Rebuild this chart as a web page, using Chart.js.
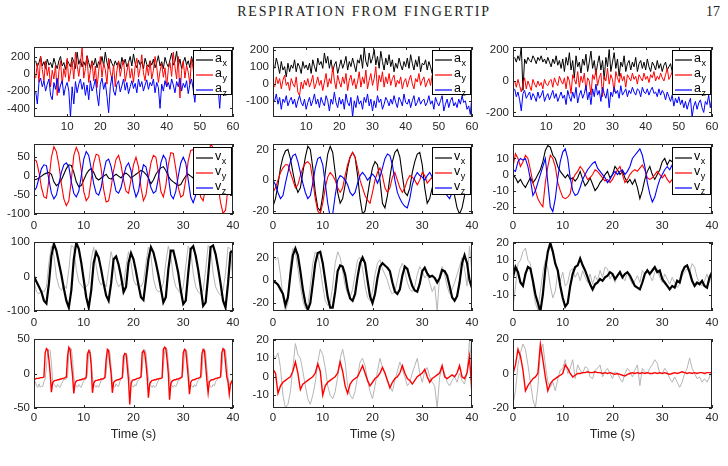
<!DOCTYPE html>
<html>
<head>
<meta charset="utf-8">
<script src="https://cdn.jsdelivr.net/npm/chart.js@4.4.1/dist/chart.umd.min.js"></script>
<style>
  html, body { margin: 0; padding: 0; background: #fff; }
  #page { position: relative; width: 728px; height: 466px; overflow: hidden; }
  .hdr { position: absolute; top: 4px; font-family: "Liberation Serif", "DejaVu Serif", serif; font-size: 14px; color: #222; }
  canvas { position: absolute; }
</style>
</head>
<body>
<div id="page">
  <div class="hdr" style="left:0; width:728px; text-align:center; letter-spacing:1.8px;">RESPIRATION FROM FINGERTIP</div>
  <div class="hdr" style="left:706px;">17</div>
</div>
<script>
// ---- data ----

// row 1: raw accelerations, 0.5 s samples over 60 s
const ax1 = [
  150, 80, 130, 200, 90, 140, 60, 170, 100, 130,
  70, 180, 110, 60, 150, 200, 90, 130, 50, 160,
  120, 80, 190, 140, 60, 250, 110, 170, 80, 140,
  90, 210, 130, 60, 150, 100, 180, 70, 140, 110,
  200, 90, 250, 130, 60, 170, 120, 80, 150, 100,
  140, 60, 190, 110, 170, 80, 130, 200, 90, 230,
  120, 70, 160, 100, 140, 60, 180, 110, 80, 150,
  100, 170, 70, 130, 210, 90, 140, 60, 190, 120,
  80, 160, 240, 100, 140, 260, 90, 170, 60, 130,
  190, 100, 150, 70, 200, 120, 80, 220, 130, 90,
  160, 60, 140, 230, 100, 170, 80, 260, 120, 150,
  70, 190, 110, 60, 160, 130, 90, 220, 140, 200
];
const ay1 = [
  -50, 120, -100, 200, 50, -80, 150, -20, 80, -150,
  40, -60, 100, -250, 30, 150, -120, 60, -40, 180,
  -90, 20, 150, -60, 250, 100, -30, 120, 300, -50,
  60, 200, -100, 40, 150, -80, 90, -160, 30, 200,
  -40, 120, 50, -120, 180, 20, -60, 100, -150, 40,
  150, -30, 80, 160, -90, 20, 130, -50, 60, -100,
  90, 180, -40, 60, 220, 10, -80, 100, -20, 150,
  -60, 40, 200, 80, -100, 30, 120, -40, 70, -150,
  50, 130, -30, 250, 80, -60, 200, -280, 40, 150,
  -50, 100, 20, -120, 180, 50, -90, 60, 130, -30,
  80, -60, 200, 40, -200, 70, 150, -30, 90, -80,
  30, 160, -70, 100, -20, 50, -100, 120, 60, 200
];
const az1 = [
  -200, -350, -100, -50, -150, -80, -200, -120, -60, -250,
  -300, -100, -180, -50, -220, -130, -80, -250, -150, -100,
  -200, -500, -150, -350, -90, -220, -120, -60, -180, -100,
  -250, -130, -300, -80, -200, -150, -60, -240, -370, -120,
  -50, -180, -100, -260, -450, -150, -30, -200, -250, -120,
  -80, -210, -140, -60, -190, -100, -230, -150, -80, -170,
  -110, -220, -60, -150, -90, -200, -130, -70, -180, -100,
  -140, -60, -220, -100, -160, -400, -120, -200, -80, -150,
  -100, -180, -60, -130, -220, -90, -150, -50, -200, -110,
  -160, -80, -230, -120, -60, -180, -330, -100, -150, -70,
  -200, -120, -60, -170, -100, -240, -140, -80, -190, -110,
  -150, -400, -90, -200, -130, -70, -220, -110, -160, -120
];
const ax2 = [
  90, 150, 110, 60, 130, 80, 100, 40, 120, 70,
  110, 90, 140, 70, 120, 100, 60, 130, 90, 110,
  80, 120, 60, 140, 100, 70, 150, 110, 130, 90,
  180, 120, 160, 90, 140, 70, 110, 130, 60, 100,
  140, 90, 120, 160, 80, 130, 100, 150, 110, 70,
  140, 120, 170, 90, 210, 130, 100, 180, 120, 150,
  200, 110, 160, 90, 190, 130, 80, 150, 110, 170,
  100, 140, 70, 120, 90, 150, 110, 80, 130, 100,
  150, 90, 170, 120, 80, 140, 100, 160, 70, 120,
  110, 140, 80, 130, 100, 60, 120, 90, 140, 100,
  80, 120, 100, 150, 70, 110, 90, 130, 60, 100,
  120, 80, 110, 70, 100, 90, 60, 120, 80, 130
];
const ay2 = [
  -20, 40, 0, 30, -30, 20, 50, -10, 10, -40,
  30, 0, -20, 40, -50, -70, 10, -30, 20, -10,
  30, -20, 10, 50, -30, 0, 40, -10, 20, -40,
  10, 60, -20, 30, 0, 100, 20, -30, 50, 10,
  -20, 40, 0, 60, -40, 20, 50, -10, 30, -30,
  10, 70, -20, 40, 0, 80, -30, 20, 60, -10,
  30, 100, -40, 50, 10, 70, -20, 40, 0, 60,
  -10, 30, 50, -20, 20, 0, 40, -30, 10, 30,
  -20, 20, 50, 0, -30, 30, 10, 60, -10, 20,
  40, -20, 10, 30, -10, 50, 0, -30, 20, 10,
  -20, 30, 0, 40, -30, 10, 20, -10, 30, 0,
  20, -20, 40, 10, -30, 30, 0, 50, 100, 60
];
const az2 = [
  -100, -60, -120, -80, -150, -90, -110, -70, -130, -100,
  -80, -120, -90, -140, -100, -70, -110, -130, -90, -150,
  -110, -80, -130, -100, -60, -120, -90, -140, -80, -110,
  -130, -70, -100, -160, -90, -120, -50, -110, -140, -80,
  -120, -90, -150, -60, -110, -130, -80, -195, -100, -140,
  -70, -120, -100, -150, -80, -110, -60, -130, -90, -160,
  -100, -140, -70, -110, -90, -150, -120, -80, -100, -130,
  -90, -120, -70, -110, -140, -80, -100, -130, -60, -110,
  -120, -90, -140, -100, -70, -130, -110, -80, -120, -100,
  -90, -130, -110, -70, -120, -100, -150, -80, -110, -130,
  -100, -70, -160, -120, -90, -140, -100, -80, -130, -110,
  -140, -90, -120, -70, -110, -100, -150, -130, -180, -60
];
const ax3 = [
  150, 120, 160, 130, 220, -60, 140, 110, 150, 130,
  120, 160, 140, 110, 150, 130, 160, 120, 140, 110,
  150, 120, 90, 140, 110, 160, 100, 130, 80, 140,
  60, 150, 100, 180, 70, 130, 20, 160, 90, 120,
  50, 140, 100, 170, 60, 120, 190, 80, 130, 40,
  110, 160, 70, 130, 10, 150, 90, 200, 60, 120,
  180, 80, 140, 30, 120, 90, 160, 60, 110, 130,
  70, 120, 90, 150, 60, 110, 130, 80, 120, 70,
  140, 90, 60, 120, 100, 70, 130, 80, 110, 60,
  100, 120, 70, 90, 110, 60, 100, 130, 80, 90,
  110, 60, 90, 120, 70, 100, 50, 110, 80, 90,
  60, 100, 80, 120, 70, 90, 40, 100, 80, 110
];
const ay3 = [
  0, -40, 10, -30, -70, -20, 20, -50, 0, -30,
  -60, 10, -20, -40, 0, -30, -10, -50, 10, -20,
  -30, 0, 10, -40, 20, -10, -30, 30, 0, -20,
  20, -50, 30, 0, -80, 40, 10, -20, 60, -40,
  30, -10, 50, -60, 20, 0, -90, 40, 10, 70,
  -30, 20, 50, -100, 30, 0, 80, -20, 40, 10,
  -70, 60, 20, -10, 50, 0, 30, -40, 40, 20,
  0, 50, 10, 30, -20, 40, 20, 0, 50, 10,
  30, -10, 40, 20, 60, 0, 30, 10, 50, 20,
  0, 40, 80, 10, 30, 60, 20, 40, 0, 30,
  50, 20, 40, 10, 60, 30, 0, 50, 20, 40,
  30, 60, 10, 40, 20, 50, 0, 30, 40, 20
];
const az3 = [
  -50, -100, -70, -120, -190, -80, -60, -110, -90, -70,
  -120, -80, -100, -130, -70, -110, -90, -60, -130, -100,
  -80, -120, -90, -60, -110, -80, -130, -100, -70, -110,
  -90, -150, -60, -100, -130, -70, -110, -40, -140, -90,
  -60, -110, -80, -30, -120, -70, -150, -50, -100, -20,
  -90, -60, -130, -40, -80, -110, -50, -170, -70, -100,
  -40, -80, -60, -110, -30, -90, -70, -50, -100, -60,
  -80, -40, -70, -90, -50, -60, -100, -40, -70, -80,
  -50, -90, -60, -40, -80, -70, -100, -50, -90, -60,
  -80, -120, -70, -100, -130, -90, -160, -110, -140, -100,
  -150, -120, -170, -130, -180, -140, -110, -229, -160, -130,
  -180, -140, -120, -170, -200, -130, -150, -90, -170, -100
];

// row 2: velocities, 0.5 s samples over 40 s
const vx1 = [
  -10, -8, -5, 0, 5, 8, 10, 5, -15, -25,
  -20, -10, 5, 20, 30, 28, 10, -15, -28, -25,
  -10, 5, 15, 20, 10, -5, -10, -5, 0, 5,
  -5, -8, 0, 5, 0, -5, 5, 8, 3, -5,
  0, 5, 10, 15, 12, 5, -5, -20, -10, 5,
  15, 22, 25, 15, 0, -10, -15, -20, -25, -22,
  -10, 0, 5, 0, -5, 0, -10, -5, 0, 5,
  0, -5, 0, 5, 0, -5, 0, 5, 0, -10,
  -15
];
const vy1 = [
  45, 40, 10, -30, -55, -58, -10, 50, 78, 65,
  30, -20, -60, -78, -65, -10, 55, 76, 60, 15,
  -40, -65, -55, -10, 35, 58, 55, 20, -35, -68,
  -65, -30, 15, 45, 55, 30, -10, -40, -45, -10,
  30, 50, 25, -30, -65, -50, -5, 35, 55, 50,
  10, -40, -55, -25, 30, 62, 60, 20, -30, -55,
  -50, -10, 40, 68, 70, 40, -15, -55, -65, -30,
  40, 85, 75, 30, -25, -70, -98, -90, -30, 35,
  55
];
const vz1 = [
  -40, -30, -5, 20, 30, 28, -10, -45, -60, -50,
  -20, 10, 30, 35, 25, -15, -45, -55, -40, 0,
  45, 65, 55, 20, -20, -45, -50, -30, 10, 40,
  45, 25, -10, -40, -45, -30, 0, 25, 35, 15,
  -30, -55, -40, 0, 30, 25, -5, -30, -45, -40,
  -5, 35, 55, 45, 0, -50, -60, -40, 0, 35,
  50, 35, -10, -55, -70, -50, 0, 30, 35, 20,
  -15, -40, -35, -10, 10, 20, 15, 0, -20, -40,
  -45
];
const vx2 = [
  -17, -12, -3, 8, 15, 19, 20, 14, 5, -3,
  -8, -5, 5, 15, 22, 20, 8, -8, -18, -20,
  -10, 5, 17, 22, 18, 5, -8, -15, -12, -3,
  8, 15, 18, 15, 3, -12, -22, -20, -10, 0,
  8, 12, 10, 0, -15, -18, -10, 2, 12, 18,
  20, 15, 3, -8, -10, -5, 5, 12, 17, 18,
  10, -5, -15, -12, -5, 0, 5, 3, -2, 0,
  -5, -8, -5, -10, -18, -22, -18, -10, -5, -2,
  0
];
const vy2 = [
  -8, -5, 0, 5, 8, 10, 10, 5, 0, -5,
  -3, 3, 8, 11, 12, 10, 0, -12, -20, -22,
  -15, -5, 2, 5, 3, 0, -5, -8, -5, 3,
  10, 15, 18, 15, 8, 0, -5, -10, -13, -15,
  -8, 0, 5, 8, 3, -5, -8, -5, 2, 5,
  0, -5, -8, -5, 0, 3, 2, 0, -3, 0,
  5, 3, -2, 0, 2, -3, 0, 3, 0, -2,
  2, 0, -3, 0, 3, 2, 5, 3, 8, 12,
  13
];
const vz2 = [
  0, -3, -8, -12, -10, -2, 5, 12, 16, 17,
  12, 5, -2, -8, -12, -10, -2, 8, 14, 15,
  10, -2, -15, -24, -22, -10, 0, 3, 2, 0,
  -3, -8, -10, -8, -2, 3, 5, 3, 0, 2,
  4, 2, -2, 2, 8, 14, 17, 16, 10, 0,
  -8, -12, -15, -17, -18, -12, -3, 2, 5, 3,
  2, 0, 3, 5, 2, -3, -5, -3, -5, -8,
  -10, -12, -8, -5, -3, 0, 2, 0, -3, -5,
  -8
];
const vx3 = [
  0, -2, -5, -3, -6, -8, -5, -2, -5, -3,
  0, 3, 8, 15, 18, 17, 12, 10, 5, 2,
  0, -2, 0, -3, -2, -4, -2, 2, -3, -7,
  -5, -2, -6, -10, -8, -5, -3, 0, 2, -2,
  0, 5, 3, 0, 2, -2, -5, -3, -6, -3,
  -8, -15, -10, -3, 2, 5, 0, -3, 0, 3,
  8, 10, 6, 9, 8, 3, 0, -2, -5, -8,
  -5, -2, 0, -3, -5, -3, 0, -2, -5, -3,
  -5
];
const vy3 = [
  5, 13, 10, 5, 8, 12, 10, 3, -5, -10,
  -15, -18, -20, -5, 5, 12, 10, 5, -5, -10,
  -14, -15, -14, -12, -3, 0, 2, 5, 3, 0,
  -3, -2, 0, 3, 2, 0, -2, -4, -3, -5,
  -3, 0, 3, 5, 0, -5, -3, 0, 2, 3,
  2, 4, 6, 3, -2, -3, -2, 0, 2, 0,
  -2, 0, -3, -5, -3, -5, -2, 0, -2, 0,
  2, 0, -2, 0, 2, 0, -2, 0, -3, 0,
  2
];
const vz3 = [
  3, 2, 8, 10, 9, 10, 5, -3, -13, -10,
  -5, 0, 5, 10, -5, -20, -23, -15, -2, 8,
  14, 16, 10, -2, -10, -13, -12, -8, -3, 0,
  3, 5, 7, 8, 4, 2, 0, -2, -5, -3,
  0, 2, 0, 2, 3, 0, 2, 5, 10, 12,
  14, 16, 12, 5, -5, -12, -17, -14, -8, -3,
  0, 3, 5, 3, 6, 8, 5, 2, 0, -2,
  0, 2, -2, 0, -3, -2, 0, -3, -5, -7,
  -6
];

// row 3: reference respiration (grey) and estimate (black), 0.5 s samples
const ref3a = [
  -10, -45, -50, -40, -45, -30, 40, 88, 60, 0,
  -30, -40, -25, -35, 20, 90, 85, 20, -15, -25,
  -35, -30, -20, 50, 85, 30, -10, -25, -15, -30,
  20, 72, 40, -10, -30, -20, -25, 30, 72, 40,
  -10, -25, -20, -30, -15, 40, 85, 60, -5, -35,
  -45, -40, -20, 40, 88, 60, 0, -30, -40, -50,
  -30, 30, 88, 75, 10, -30, -45, -50, -40, 20,
  90, 80, 10, -30, -45, -55, -40, 10, 85, 80,
  -20
];
const est3a = [
  0, -15, -30, -45, -70, -78, -20, 60, 95, 75,
  40, 5, -35, -70, -90, -40, 50, 98, 80, 40,
  -10, -60, -90, -40, 40, 70, 55, 20, -20, -55,
  -70, -20, 50, 58, 35, 0, -45, -30, 40, 68,
  50, 15, -25, -60, -68, -10, 50, 85, 70, 40,
  5, -35, -75, -60, 20, 75, 75, 45, 10, -40,
  -80, -70, 10, 80, 88, 60, 20, -30, -85, -75,
  0, 85, 90, 65, 25, -20, -70, -90, -20, 70,
  75
];
const ref3b = [
  22, 18, 20, 5, -15, -27, -20, 15, 28, 25,
  10, -5, -18, -25, -22, -5, 15, 25, 22, 10,
  -5, -18, -22, -20, -5, 15, 25, 20, 8, -5,
  -12, -15, -8, 5, 18, 20, 10, -5, -15, -18,
  -10, 5, 15, 18, 10, 5, 0, -8, -12, -10,
  0, 10, 15, 8, -2, -8, -10, -5, 5, 12,
  8, 2, 5, -2, -10, -5, -27, 5, 12, 5,
  -5, -12, -8, -2, 5, 12, 20, 10, -5, 30,
  5
];
const est3b = [
  -1, -2, -4, -8, -12, -22, -15, 5, 22, 28,
  22, 8, -8, -20, -26, -20, -3, 15, 24, 25,
  15, 0, -15, -24, -24, -10, 8, 13, 12, 5,
  -8, -16, -18, -12, 3, 15, 20, 15, 0, -14,
  -20, -12, 2, 12, 15, 13, 11, 8, -2, -10,
  -12, -8, 4, 12, 10, 2, -5, -9, -10, -3,
  8, 11, 6, 3, 4, 2, -2, 2, 9, 8,
  4, -5, -15, -18, -14, -2, 15, 22, 15, 0,
  -7
];
const ref3c = [
  -18, -5, 8, 10, 15, 17, 10, 8, -5, -15,
  -19, -8, 3, 10, 5, -5, -12, -8, 3, -2,
  3, -5, -3, 4, 5, 0, 3, -2, 4, 0,
  -3, 2, -4, 1, -2, 4, 0, 6, 5, -1,
  2, -3, 1, 4, 0, -2, 3, -1, -4, -2,
  1, -3, 4, 2, 5, 1, -2, 3, 5, 0,
  -3, 2, -1, -4, 0, -3, -6, -4, 1, 3,
  5, 3, 8, 6, 0, -3, -5, -2, 2, -3,
  3
];
const est3c = [
  0, 6, 3, -3, -5, 2, 6, 5, -2, -10,
  -15, -20, -10, 5, 15, 20, 15, 8, 4, -5,
  -12, -17, -15, -5, 2, 6, 7, 11, 7, 4,
  0, -4, -7, -4, -3, -1, -2, 0, 1, 3,
  2, -1, 1, 3, 0, 2, 3, 1, -2, -5,
  -6, -7, -3, 2, 4, 2, 4, 6, 3, 4,
  -1, -3, -5, -7, -5, -6, -2, -3, 3, 6,
  7, 3, -2, -5, -3, -4, -2, -5, -6, 0,
  3
];

// row 4: reference (grey) and derivative signal (red)
// left panel at 0.25 s samples
const ref4a = [
  -8, -12, -18, -20, -15, -20, -18, -19,
  -12, -8, 10, 30, 35, 33, 15, -10,
  -15, -18, -20, -16, -19, -20, -15, -12,
  -8, -9, -8, -5, 30, 37, 36, 20,
  -5, -15, -18, -20, -16, -19, -20, -15,
  -10, -9, -8, 0, 32, 35, 20, -5,
  -15, -18, -20, -17, -20, -15, -10, -9,
  -8, -7, 0, 28, 35, 30, 10, -12,
  -18, -20, -15, -18, -19, -12, -8, -6,
  5, 28, 30, 25, 5, -10, -15, -18,
  -20, -16, -18, -12, -9, -8, -6, 5,
  30, 35, 30, 10, -8, -15, -18, -20,
  -17, -20, -19, -14, -10, -9, -8, -7,
  10, 32, 38, 35, 15, -5, -15, -18,
  -20, -17, -19, -15, -10, -9, -8, -6,
  5, 30, 35, 32, 10, -10, -16, -18,
  -20, -16, -19, -14, -10, -8, -7, 0,
  30, 36, 30, 8, -10, -16, -19, -20,
  -16, -18, -12, -9, -8, -7, -5, 5,
  30, 36, 33, 15, -5, -15, -18, -12,
  -10
];
const der4a = [
  -8, -8, -7, -7, -7, -6, -6, -6,
  -5, 30, 36, 34, 20, 0, -27, -13,
  -11, -10, -10, -9, -9, -8, -8, -7,
  -7, -6, -5, 25, 38, 35, 15, -3,
  -29, -14, -11, -10, -10, -9, -9, -8,
  -8, -7, -5, 28, 33, 30, 12, -28,
  -14, -11, -10, -10, -9, -9, -8, -8,
  -7, -6, 20, 35, 33, 15, 0, -28,
  -13, -11, -10, -9, -9, -8, -7, -6,
  25, 29, 28, 10, -10, -45, -15, -10,
  -9, -9, -8, -7, -7, -6, -5, 30,
  33, 30, 15, -5, -35, -15, -12, -10,
  -10, -9, -9, -8, -8, -7, -7, -6,
  35, 38, 36, 20, 0, -38, -15, -11,
  -10, -9, -9, -8, -8, -7, -6, -5,
  30, 35, 33, 15, -5, -30, -13, -10,
  -9, -9, -8, -7, -7, -6, -5, 28,
  35, 33, 12, -10, -28, -12, -10, -9,
  -9, -8, -7, -7, -6, -6, -5, 30,
  36, 34, 15, -5, -12, -30, -15, -11,
  -10
];
const ref4b = [
  12, 10, 13, 5, -10, -17, -15, -8, 5, 18,
  12, 10, 3, -5, -12, -15, -10, -3, 8, 15,
  12, 5, -5, -10, -12, -8, 0, 10, 15, 8,
  -5, -10, -12, -8, 0, 8, 10, 6, -2, -8,
  -12, -5, 3, 10, 5, 2, -3, -5, -8, -2,
  3, 8, 4, 0, -5, -3, 2, 6, 10, 2,
  -3, 3, 5, 0, -3, -5, -17, 0, 5, 2,
  -3, -5, -2, 0, -3, 2, -2, -4, 2, 20,
  5
];
const der4b = [
  4, 2, -9, -5, -3, -2, -1, 0, 3, 8,
  2, -7, -4, -3, -2, -1, 0, 2, 7, 3,
  -10, -5, -3, -2, -1, 0, 2, 8, 3, -5,
  -9, -4, -2, -1, 0, 3, 6, 2, -2, -5,
  -3, -1, 0, 2, 5, 2, -2, -6, -3, -1,
  0, 2, 6, 2, -1, -2, -4, -2, 0, 1,
  2, 4, 0, -3, -1, 0, 1, 2, 6, 0,
  -1, 0, 1, 0, 2, 6, 0, -1, 2, 11,
  -10
];
const ref4c = [
  -18, -10, 5, 12, 17, 14, 5, -5, -15, -20,
  -8, 12, 17, 5, -5, -8, -5, -10, -3, 2,
  3, 8, 0, 3, 8, -3, 5, 2, 0, 4,
  3, -2, -3, 2, 3, 5, -2, 1, 3, 0,
  -3, 1, 0, -3, -5, 0, 3, 1, -2, 2,
  5, -7, 3, 1, 0, 3, 5, 8, 6, 0,
  0, 3, 1, -3, -5, -2, -5, -8, -5, 0,
  3, 9, 3, 0, -3, -2, -5, -3, -5, -2,
  2
];
const der4c = [
  0, 5, 14, 10, 2, -10, -7, -5, -3, -2,
  0, 17, 8, -2, -10, -6, -4, -3, -2, -1,
  0, 5, 3, 0, -2, -1, 0, 0, 0.5, 0.5,
  1, 0.5, 0.5, 1, 0.5, 0.5, 0, 0.5, 0, 0.5,
  0, -0.5, 0, -0.5, -1, -1.5, -0.5, 0, 0.5, 0,
  0.5, 0, 0.5, 0, 0.5, 0, 0, 0.5, 0, 0.5,
  0, 0.5, 0, -0.5, 0, 0.5, 0, 0.5, 1, 0.5,
  0, 0.5, 0, 0.5, 0, 0.5, 0.5, 0, 0.5, 0.5,
  0.5
];

// tick labels
const X60_TICKS = [10, 20, 30, 40, 50, 60];
const X40_TICKS = [0, 10, 20, 30, 40];

// ---- helpers ----
const INK = '#000000';
const RED = '#ff0000';
const BLUE = '#0000ff';
const GREY = '#b5b5b5';
const AXIS = '#262626';
const FONT = '"Liberation Sans", Arial, Helvetica, sans-serif';

function sampleTimes(t0, dt, n) {
  return Array.from({ length: n }, (_, i) => Math.round((t0 + i * dt) * 100) / 100);
}
const T60 = sampleTimes(0.5, 0.5, 120);
const T40 = sampleTimes(0, 0.5, 81);
const T40Q = sampleTimes(0, 0.25, 161);

const pts = (ts, vs) => vs.map((v, i) => ({ x: ts[i], y: v }));

const LEG_A = [['a', 'x', INK], ['a', 'y', RED], ['a', 'z', BLUE]];
const LEG_V = [['v', 'x', INK], ['v', 'y', RED], ['v', 'z', BLUE]];

// plot-area geometry (page pixels)
const COL_L = [34, 273, 513];
const COL_W = 199;
const ROW_T = [47, 144, 242, 339];
const ROW_H = [70, 70, 69, 69];
const PAD_L = 34, PAD_T = 9, PAD_R = 10;
const TICK_PAD = [3, 5, 5, 3];

const panels = [
  { r: 0, c: 0, x: [0, 60], xt: X60_TICKS, y: [-500, 310], yt: [-400, -200, 0, 200], leg: LEG_A,
    s: [[T60, ax1, INK, 1], [T60, ay1, RED, 1], [T60, az1, BLUE, 1]] },
  { r: 0, c: 1, x: [0, 60], xt: X60_TICKS, y: [-195, 215], yt: [-100, 0, 100, 200], leg: LEG_A,
    s: [[T60, ax2, INK, 1], [T60, ay2, RED, 1], [T60, az2, BLUE, 1]] },
  { r: 0, c: 2, x: [0, 60], xt: X60_TICKS, y: [-229, 216], yt: [-200, 0, 200], leg: LEG_A,
    s: [[T60, ax3, INK, 1], [T60, ay3, RED, 1], [T60, az3, BLUE, 1]] },
  { r: 1, c: 0, x: [0, 40], xt: X40_TICKS, y: [-100, 85], yt: [-100, -50, 0, 50], leg: LEG_V,
    s: [[T40, vx1, INK, 1.1], [T40, vy1, RED, 1.1], [T40, vz1, BLUE, 1.1]] },
  { r: 1, c: 1, x: [0, 40], xt: X40_TICKS, y: [-22, 23.5], yt: [-20, 0, 20], leg: LEG_V,
    s: [[T40, vx2, INK, 1.1], [T40, vy2, RED, 1.1], [T40, vz2, BLUE, 1.1]] },
  { r: 1, c: 2, x: [0, 40], xt: X40_TICKS, y: [-24.5, 19], yt: [-20, -10, 0, 10], leg: LEG_V,
    s: [[T40, vx3, INK, 1.1], [T40, vy3, RED, 1.1], [T40, vz3, BLUE, 1.1]] },
  { r: 2, c: 0, x: [0, 40], xt: X40_TICKS, y: [-100, 100], yt: [-100, 0, 100],
    s: [[T40, ref3a, GREY, 1], [T40, est3a, INK, 2.2]] },
  { r: 2, c: 1, x: [0, 40], xt: X40_TICKS, y: [-27, 33.6], yt: [-20, 0, 20],
    s: [[T40, ref3b, GREY, 1], [T40, est3b, INK, 2.2]] },
  { r: 2, c: 2, x: [0, 40], xt: X40_TICKS, y: [-19.6, 20.6], yt: [-10, 0, 10, 20],
    s: [[T40, ref3c, GREY, 1], [T40, est3c, INK, 2.2]] },
  { r: 3, c: 0, x: [0, 40], xt: X40_TICKS, y: [-50, 50], yt: [-50, 0, 50], time: true,
    s: [[T40Q, ref4a, GREY, 1], [T40Q, der4a, RED, 1.4]] },
  { r: 3, c: 1, x: [0, 40], xt: X40_TICKS, y: [-17, 20.5], yt: [-10, 0, 10, 20], time: true,
    s: [[T40, ref4b, GREY, 1], [T40, der4b, RED, 1.4]] },
  { r: 3, c: 2, x: [0, 40], xt: X40_TICKS, y: [-20, 20], yt: [-20, 0, 20], time: true,
    s: [[T40, ref4c, GREY, 1], [T40, der4c, RED, 1.4]] },
];

// MATLAB-style box with inward ticks on all four sides
const matlabFrame = {
  id: 'matlabFrame',
  afterDatasetsDraw(chart) {
    const { ctx, chartArea: a, scales: { x, y } } = chart;
    const tick = 3;
    ctx.save();
    ctx.strokeStyle = AXIS;
    ctx.lineWidth = 1;
    ctx.strokeRect(a.left + 0.5, a.top + 0.5, a.width - 1, a.height - 1);
    ctx.beginPath();
    x.ticks.forEach((t) => {
      const px = Math.round(x.getPixelForValue(t.value)) + 0.5;
      ctx.moveTo(px, a.bottom); ctx.lineTo(px, a.bottom - tick);
      ctx.moveTo(px, a.top); ctx.lineTo(px, a.top + tick);
    });
    y.ticks.forEach((t) => {
      const py = Math.round(y.getPixelForValue(t.value)) + 0.5;
      ctx.moveTo(a.left, py); ctx.lineTo(a.left + tick, py);
      ctx.moveTo(a.right, py); ctx.lineTo(a.right - tick, py);
    });
    ctx.stroke();
    ctx.restore();
  },
};

// boxed legend with subscripted labels, top right corner
const boxLegend = {
  id: 'boxLegend',
  afterDraw(chart, args, opts) {
    if (!opts.items) return;
    const { ctx, chartArea: a } = chart;
    const w = 39, h = opts.h;
    const x0 = Math.round(a.right - 1 - w), y0 = Math.round(a.top + opts.top);
    ctx.save();
    ctx.fillStyle = '#fff';
    ctx.fillRect(x0, y0, w, h);
    ctx.strokeStyle = '#000';
    ctx.lineWidth = 1;
    ctx.strokeRect(x0 + 0.5, y0 + 0.5, w - 1, h - 1);
    opts.items.forEach(([main, sub, color], i) => {
      const cy = y0 + opts.first + i * opts.gap;
      ctx.strokeStyle = color;
      ctx.lineWidth = 1.2;
      ctx.beginPath();
      ctx.moveTo(x0 + 3, cy); ctx.lineTo(x0 + 20, cy);
      ctx.stroke();
      ctx.fillStyle = '#000';
      ctx.font = `12.5px ${FONT}`;
      ctx.textBaseline = 'alphabetic';
      ctx.fillText(main, x0 + 22, cy + 2);
      const mw = ctx.measureText(main).width;
      ctx.font = `9px ${FONT}`;
      ctx.fillText(sub, x0 + 22 + mw + 0.5, cy + 6);
    });
    ctx.restore();
  },
};

const page = document.getElementById('page');

panels.forEach((p) => {
  const padB = p.time ? 38 : 20;
  const canvas = document.createElement('canvas');
  const cw = PAD_L + COL_W + PAD_R;
  const ch = PAD_T + ROW_H[p.r] + padB;
  canvas.width = cw;
  canvas.height = ch;
  canvas.style.left = `${COL_L[p.c] - PAD_L}px`;
  canvas.style.top = `${ROW_T[p.r] - PAD_T}px`;
  canvas.style.width = `${cw}px`;
  canvas.style.height = `${ch}px`;
  page.appendChild(canvas);

  const n = p.s.length;
  new Chart(canvas, {
    type: 'line',
    data: {
      datasets: p.s.map(([ts, vs, color, width], k) => ({
        data: pts(ts, vs),
        borderColor: color,
        borderWidth: width,
        pointRadius: 0,
        tension: 0,
        fill: false,
        order: n - k,
      })),
    },
    options: {
      responsive: false,
      animation: false,
      events: [],
      devicePixelRatio: 1,
      layout: { padding: { left: 0, right: PAD_R, top: PAD_T, bottom: 0 } },
      plugins: {
        legend: { display: false },
        tooltip: { enabled: false },
        boxLegend: p.leg ? { items: p.leg, top: p.r === 0 ? 2.5 : 3, h: p.r === 0 ? 45 : 48, first: p.r === 0 ? 10 : 11, gap: 15 } : {},
      },
      scales: {
        x: {
          type: 'linear',
          min: p.x[0],
          max: p.x[1],
          grid: { display: false, drawTicks: false },
          border: { display: false },
          ticks: { color: AXIS, font: { family: FONT, size: 11.5 }, padding: TICK_PAD[p.r], maxRotation: 0, autoSkip: false },
          afterBuildTicks: (s) => { s.ticks = p.xt.map((v) => ({ value: v })); },
          afterFit: (s) => { s.height = padB; s.paddingLeft = 0; s.paddingRight = 0; },
          title: p.time
            ? { display: true, text: 'Time (s)', color: AXIS, font: { family: FONT, size: 12.5 }, padding: { top: 0, bottom: 4 } }
            : { display: false },
        },
        y: {
          type: 'linear',
          min: p.y[0],
          max: p.y[1],
          grid: { display: false, drawTicks: false },
          border: { display: false },
          ticks: { color: AXIS, font: { family: FONT, size: 11.5 }, padding: 4, autoSkip: false },
          afterBuildTicks: (s) => { s.ticks = p.yt.map((v) => ({ value: v })); },
          afterFit: (s) => { s.width = PAD_L; s.paddingTop = 0; s.paddingBottom = 0; },
        },
      },
    },
    plugins: [matlabFrame, boxLegend],
  });
});
</script>
</body>
</html>
